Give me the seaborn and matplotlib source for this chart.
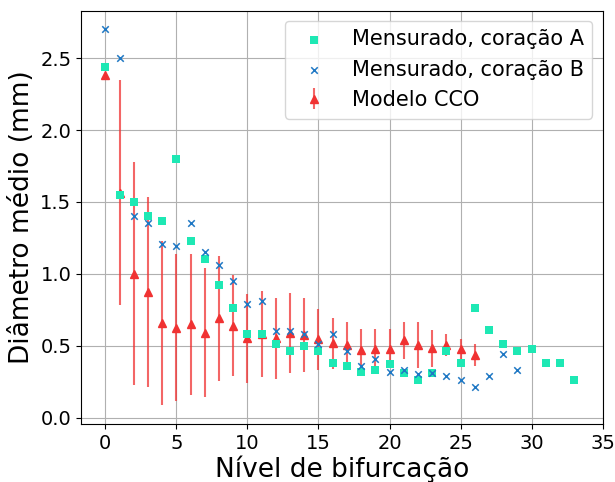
import numpy as np
import pandas as pd
import matplotlib
matplotlib.use("Agg")
import matplotlib.pyplot as plt
import seaborn as sns

# Mean diameter per bifurcation level
niveis_a = list(range(0, 34))
diam_a = [2.44, 1.55, 1.50, 1.40, 1.37, 1.80, 1.23, 1.10, 0.92, 0.76,
          0.58, 0.58, 0.51, 0.46, 0.50, 0.46, 0.38, 0.36, 0.32, 0.33,
          0.37, 0.31, 0.26, 0.31, 0.46, 0.38, 0.76, 0.61, 0.51, 0.46,
          0.48, 0.38, 0.38, 0.26]

niveis_b = list(range(0, 30))
diam_b = [2.70, 2.50, 1.40, 1.35, 1.21, 1.19, 1.35, 1.15, 1.06, 0.95,
          0.79, 0.81, 0.60, 0.60, 0.58, 0.51, 0.58, 0.46, 0.36, 0.41,
          0.32, 0.33, 0.30, 0.31, 0.29, 0.26, 0.21, 0.29, 0.44, 0.33]

niveis_cco = list(range(0, 27))
diam_cco = [2.38, 1.565, 1.00, 0.875, 0.655, 0.625, 0.65, 0.59, 0.69, 0.64,
            0.553, 0.581, 0.551, 0.59, 0.574, 0.544, 0.516, 0.505, 0.468, 0.475,
            0.479, 0.537, 0.502, 0.482, 0.502, 0.477, 0.433]
desvio_cco = [0.0, 0.78, 0.775, 0.66, 0.57, 0.51, 0.49, 0.45, 0.435, 0.35,
              0.31, 0.30, 0.28, 0.28, 0.26, 0.21, 0.18, 0.16, 0.15, 0.14,
              0.135, 0.13, 0.16, 0.13, 0.076, 0.07, 0.077]

df_a = pd.DataFrame({"nivel": niveis_a, "diam": diam_a})
df_b = pd.DataFrame({"nivel": niveis_b, "diam": diam_b})

cor_a = "#1ee8b4"
cor_b = "#1f78c4"
cor_cco = "#f03232"

fig = plt.figure(figsize=(6.15, 4.82), dpi=100)
ax = fig.add_axes([0.132, 0.120, 0.848, 0.858])

ax.grid(True, color="#b0b0b0", linewidth=0.8, zorder=0)
ax.set_axisbelow(True)

sns.scatterplot(data=df_a, x="nivel", y="diam", marker="s", color=cor_a,
                s=28, linewidth=0, ax=ax, label="Mensurado, coração A", zorder=3)
sns.scatterplot(data=df_b, x="nivel", y="diam", marker="x", color=cor_b,
                s=22, linewidth=1.1, ax=ax, label="Mensurado, coração B", zorder=3)
ax.errorbar(niveis_cco, diam_cco, yerr=desvio_cco, fmt="^", color=cor_cco,
            ecolor=(0.94, 0.2, 0.2, 0.75), elinewidth=1.5, markersize=6,
            capsize=0, label="Modelo CCO", zorder=2)

ax.set_xlim(-1.7, 35)
ax.set_xticks(range(0, 36, 5))
ax.set_yticks([0.0, 0.5, 1.0, 1.5, 2.0, 2.5])
ax.tick_params(labelsize=14)
ax.set_xlabel("Nível de bifurcação", fontsize=19, labelpad=2)
ax.set_ylabel("Diâmetro médio (mm)", fontsize=19)

ax.legend(loc="upper right", fontsize=15, framealpha=0.8,
          handlelength=2.0, handletextpad=0.8)

fig.savefig("out.png", dpi=100)
